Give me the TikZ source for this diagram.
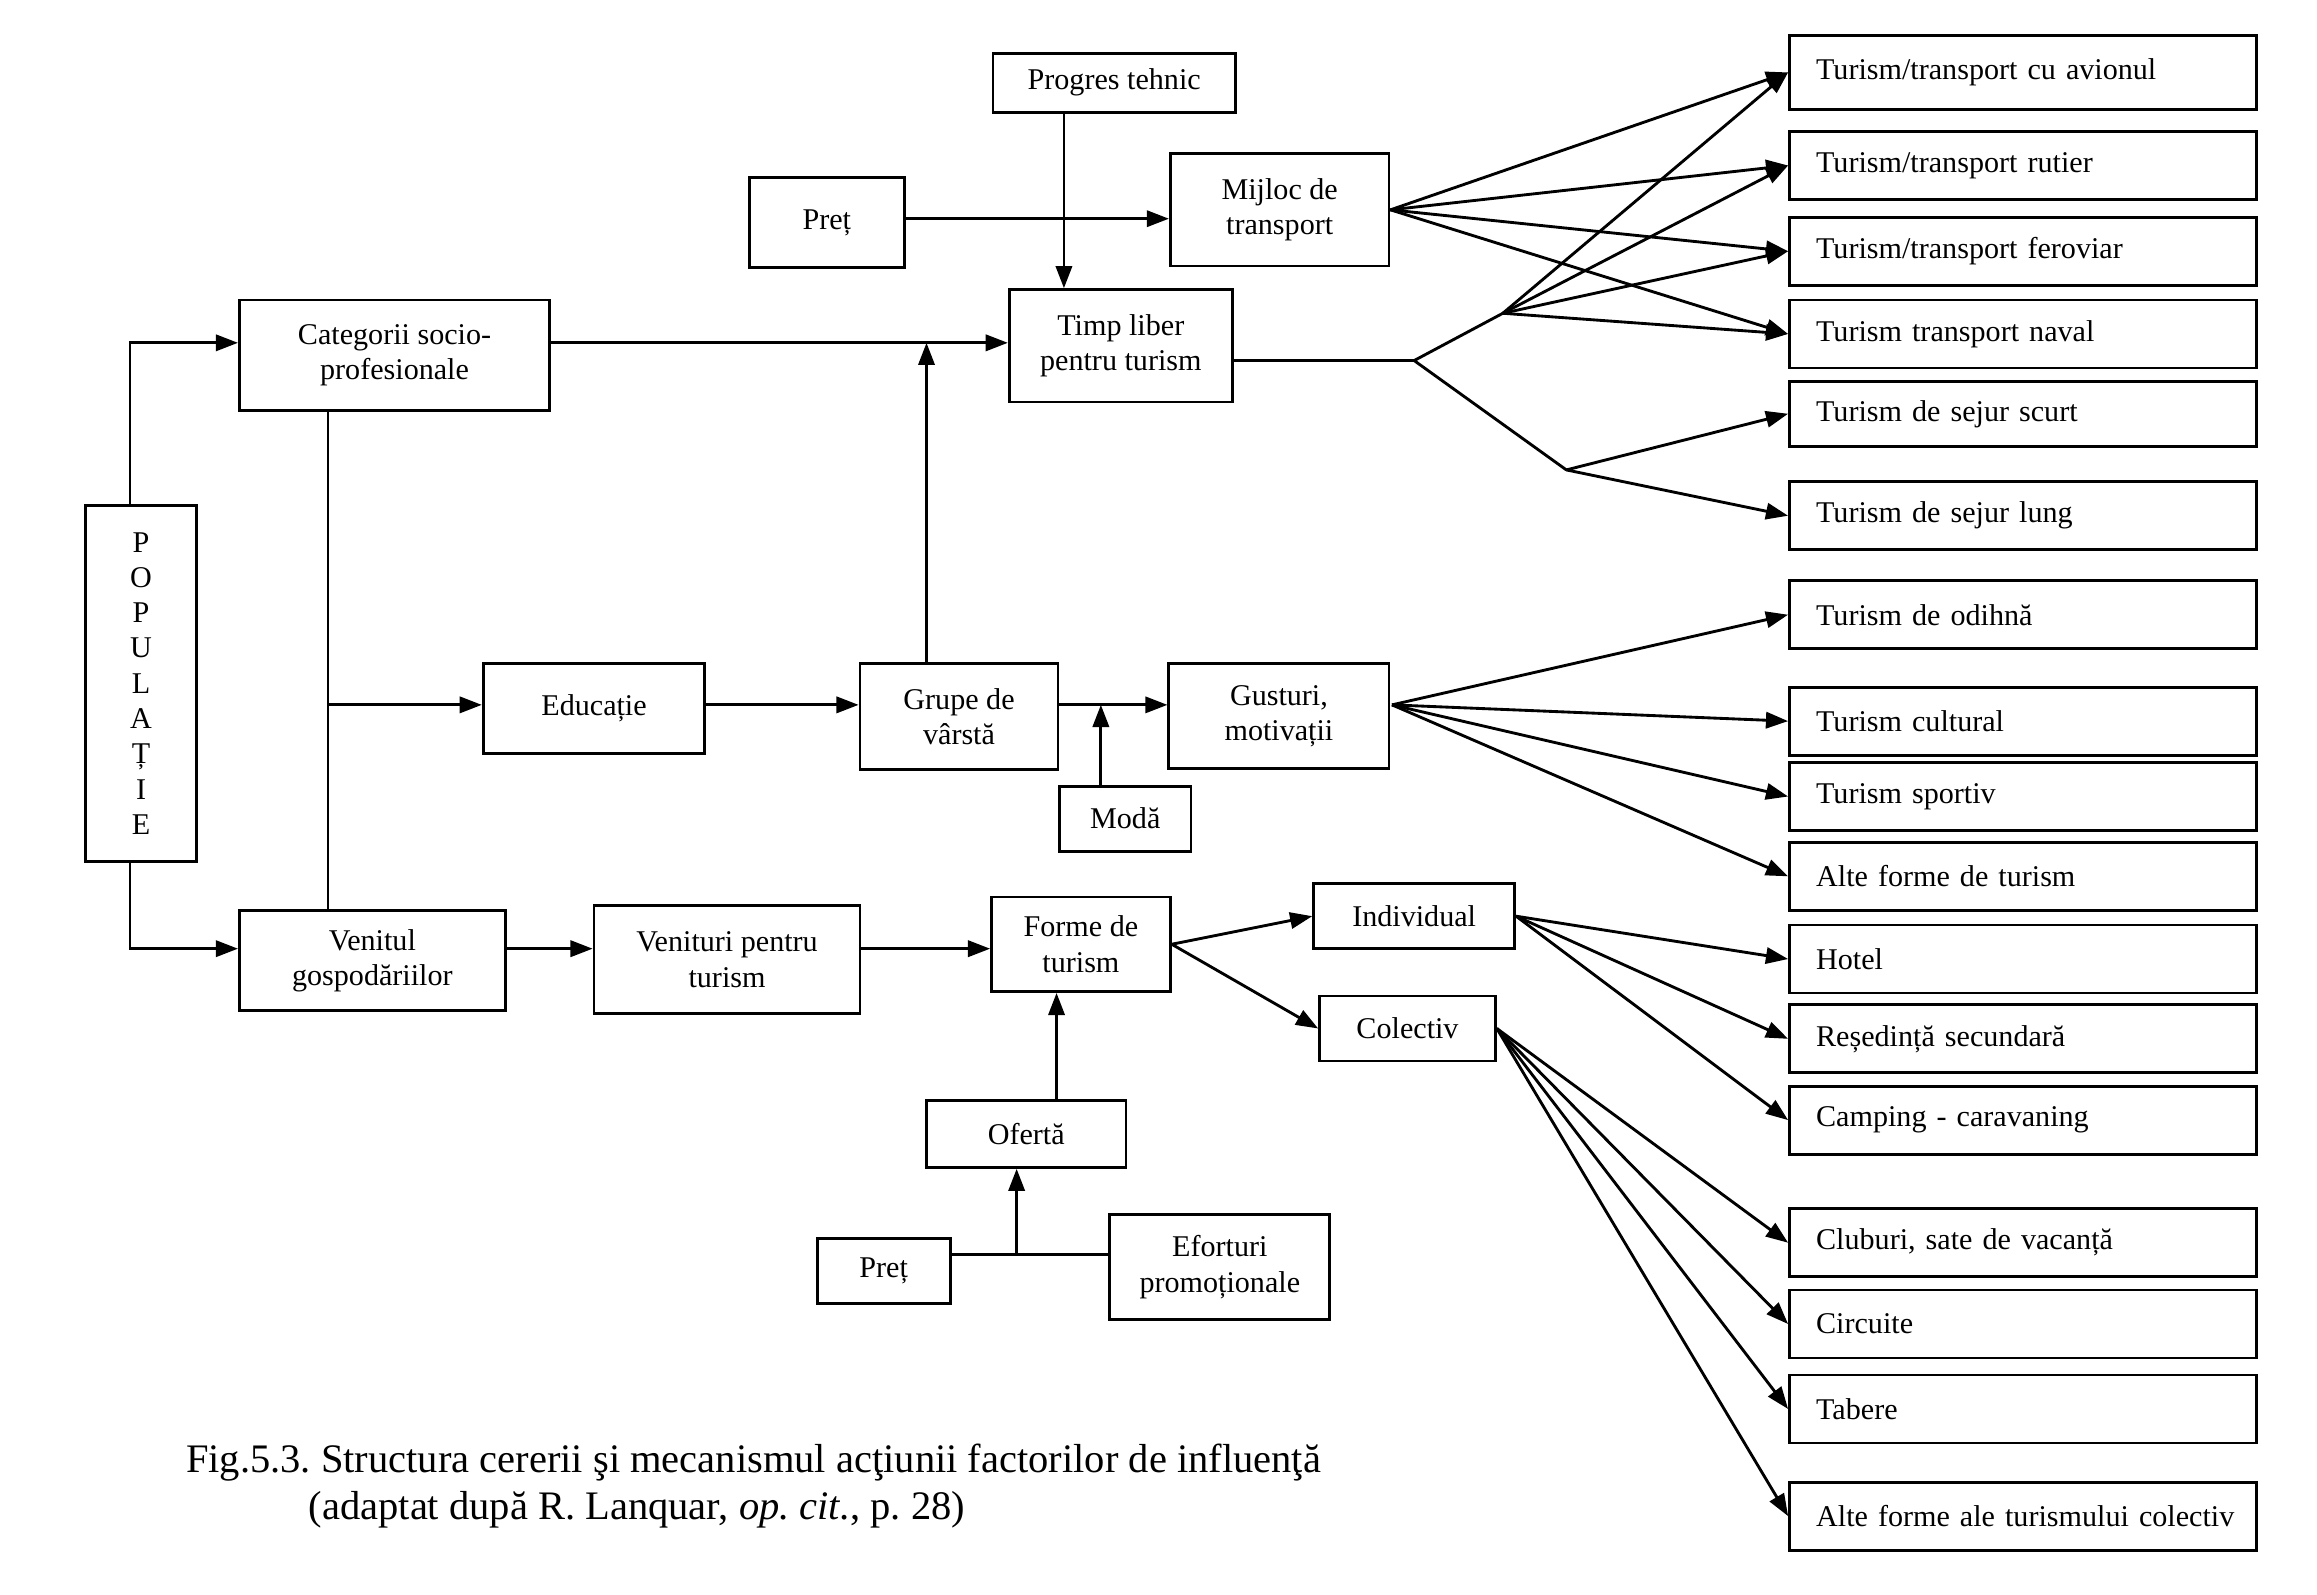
\documentclass[tikz,border=0pt]{standalone}
\usepackage{fontspec}
\setmainfont{Liberation Serif}
\usetikzlibrary{arrows.meta,positioning}
\frenchspacing

\begin{document}
\begin{tikzpicture}[x=0.02cm, y=-0.02cm, line width=1.1pt,
  >={Triangle[length=0.3cm,width=0.22cm]},
  box/.style={draw, rectangle, align=center, inner sep=1pt, font=\fontsize{11.6}{13.6}\selectfont},
  item/.style={draw, rectangle, align=left, text width=5.9cm, inner xsep=0.21cm, inner ysep=0pt,
    minimum height=0.92cm, font=\fontsize{11.6}{13.6}\selectfont,
    execute at begin node={\hspace*{0.15cm}}}]

  \useasboundingbox (0,0) rectangle (1568,1079);

  % left and middle boxes
  \node[box, minimum width=3.28cm, minimum height=0.8cm] (prog) at (754,56) {Progres tehnic};
  \node[box, minimum width=2.1cm, minimum height=1.22cm] (pret) at (559.5,150.5) {Preț};
  \node[box, minimum width=2.96cm, minimum height=1.52cm] (mijl) at (866,142) {Mijloc de\\transport};
  \node[box, minimum width=3.02cm, minimum height=1.52cm] (timp) at (758.5,234) {Timp liber\\pentru turism};
  \node[box, minimum width=4.2cm, minimum height=1.5cm] (cat) at (267,240.5) {Categorii socio-\\profesionale};
  \node[box, minimum width=1.5cm, minimum height=4.82cm] (pop) at (95.5,462.5) {P\\O\\P\\U\\L\\A\\Ț\\I\\E};
  \node[box, minimum width=3cm, minimum height=1.22cm] (edu) at (402,479.5) {Educație};
  \node[box, minimum width=2.68cm, minimum height=1.44cm] (grupe) at (649,485) {Grupe de\\vârstă};
  \node[box, minimum width=2.98cm, minimum height=1.42cm] (gust) at (865.5,484.5) {Gusturi,\\motivații};
  \node[box, minimum width=1.78cm, minimum height=0.88cm] (moda) at (761.5,554) {Modă};
  \node[box, minimum width=3.6cm, minimum height=1.36cm] (venit) at (252,650) {Venitul\\gospodăriilor};
  \node[box, minimum width=3.6cm, minimum height=1.46cm] (vtur) at (492,649.5) {Venituri pentru\\turism};
  \node[box, minimum width=2.42cm, minimum height=1.28cm] (forme) at (731.5,639) {Forme de\\turism};
  \node[box, minimum width=2.72cm, minimum height=0.88cm] (indiv) at (957,620) {Individual};
  \node[box, minimum width=2.38cm, minimum height=0.88cm] (colec) at (952.5,696) {Colectiv};
  \node[box, minimum width=2.7cm, minimum height=0.9cm] (oferta) at (694.5,767.5) {Ofertă};
  \node[box, minimum width=1.8cm, minimum height=0.88cm] (pret2) at (598,860) {Preț};
  \node[box, minimum width=2.98cm, minimum height=1.42cm] (efort) at (825.5,857.5) {Eforturi\\promoționale};

  % right column
  \node[item, minimum height=1cm] (avion) at (1369,49) {Turism/transport cu avionul};
  \node[item] (rutier) at (1369,112) {Turism/transport rutier};
  \node[item] (ferov) at (1369,170) {Turism/transport feroviar};
  \node[item] (naval) at (1369,226) {Turism transport naval};
  \node[item, minimum height=0.88cm] (scurt) at (1369,280) {Turism de sejur scurt};
  \node[item] (lung) at (1369,349) {Turism de sejur lung};
  \node[item] (odihna) at (1369,416) {Turism de odihnă};
  \node[item] (cultural) at (1369,488) {Turism cultural};
  \node[item] (sportiv) at (1369,539) {Turism sportiv};
  \node[item] (altef) at (1369,593) {Alte forme de turism};
  \node[item] (hotel) at (1369,649) {Hotel};
  \node[item] (resed) at (1369,703) {Reședință secundară};
  \node[item] (camp) at (1369,758) {Camping - caravaning};
  \node[item] (club) at (1369,841) {Cluburi, sate de vacanță};
  \node[item] (circ) at (1369,896) {Circuite};
  \node[item] (tabere) at (1369,953.5) {Tabere};
  \node[item] (altec) at (1369,1026) {Alte forme ale turismului colectiv};

  % caption
  \node[anchor=west, inner sep=0, font=\fontsize{15.6}{18}\selectfont] (fig) at (125,990)
    {Fig.5.3. Structura cererii şi mecanismul acţiunii factorilor de influenţă};
  \node[anchor=west, inner sep=0, font=\fontsize{15.6}{18}\selectfont] (src) at (208,1022)
    {(adaptat după R. Lanquar, \textit{op. cit.}, p. 28)};

  % bends and junctions
  \coordinate (popt) at (88,232);
  \coordinate (popb) at (88,642);
  \coordinate (edv) at (222,477);
  \coordinate (cg) at (627,232);
  \coordinate (pt) at (720,0);
  \coordinate (pm) at (0,148);
  \coordinate (mg) at (745,477);
  \coordinate (of) at (715,0);
  \coordinate (pe) at (688,849);
  \coordinate (tj) at (957,244);
  \coordinate (tu) at (1017,212);
  \coordinate (td) at (1060,318);
  \coordinate (gf) at (942,477);

  \draw[->] (pop.north -| popt) |- (cat.west |- popt);
  \draw[->] (pop.south -| popb) |- (venit.west |- popb);
  \draw (cat.south -| edv) -- (venit.north -| edv);
  \draw[->] (edv) -- (edu.west |- edv);
  \draw[->] (edu.east |- edv) -- (grupe.west |- edv);
  \draw[->] (grupe.north -| cg) -- (cg);
  \draw[->] (cat.east |- cg) -- (timp.west |- cg);
  \draw[->] (prog.south -| pt) -- (timp.north -| pt);
  \draw[->] (pret.east |- pm) -- (mijl.west |- pm);
  \draw[->] (grupe.east |- mg) -- (gust.west |- mg);
  \draw[->] (moda.north -| mg) -- (mg);
  \draw[->] (venit.east |- popb) -- (vtur.west |- popb);
  \draw[->] (vtur.east |- popb) -- (forme.west |- popb);
  \path[->] (forme.east) edge (indiv.west) edge (colec.west);
  \draw[->] (oferta.north -| of) -- (forme.south -| of);
  \draw (pret2.east |- pe) -- (efort.west |- pe);
  \draw[->] (pe) -- (oferta.south -| pe);

  % fans to the right column
  \path[->] (mijl.east) edge (avion.west) edge (rutier.west) edge (ferov.west) edge (naval.west);
  \draw (timp.east |- tj) -- (tj) -- (tu) (tj) -- (td);
  \path[->] (tu) edge (avion.west) edge (rutier.west) edge (ferov.west) edge (naval.west);
  \path[->] (td) edge (scurt.west) edge (lung.west);
  \path[->] (gf) edge (odihna.west) edge (cultural.west) edge (sportiv.west) edge (altef.west);
  \path[->] (indiv.east) edge (hotel.west) edge (resed.west) edge (camp.west);
  \path[->] (colec.east) edge (club.west) edge (circ.west) edge (tabere.west) edge (altec.west);
\end{tikzpicture}
\end{document}
